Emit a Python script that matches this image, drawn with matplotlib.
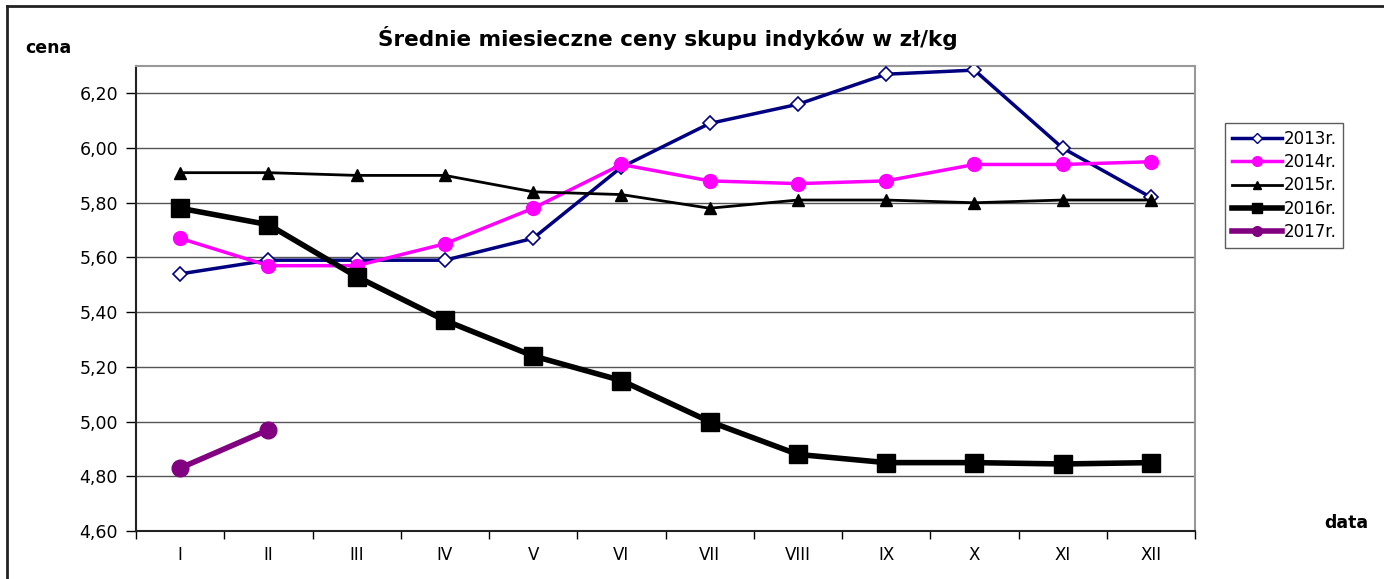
import numpy as np
import matplotlib
matplotlib.use("Agg")
import matplotlib.pyplot as plt
from matplotlib.lines import Line2D

plt.rcParams['font.family'] = ['DejaVu Sans']

# === Data ===
months = ["I", "II", "III", "IV", "V", "VI", "VII", "VIII", "IX", "X", "XI", "XII"]
y2013 = [5.54, 5.59, 5.59, 5.59, 5.67, 5.93, 6.09, 6.16, 6.27, 6.285, 6.00, 5.82]
y2014 = [5.67, 5.57, 5.57, 5.65, 5.78, 5.94, 5.88, 5.87, 5.88, 5.94, 5.94, 5.95]
y2015 = [5.91, 5.91, 5.90, 5.90, 5.84, 5.83, 5.78, 5.81, 5.81, 5.80, 5.81, 5.81]
y2016 = [5.78, 5.72, 5.53, 5.37, 5.24, 5.15, 5.00, 4.88, 4.85, 4.85, 4.845, 4.85]
y2017 = [4.83, 4.97]
labels = ["2013r.", "2014r.", "2015r.", "2016r.", "2017r."]
yticks = [4.6, 4.8, 5.0, 5.2, 5.4, 5.6, 5.8, 6.0, 6.2]

fig = plt.figure(figsize=(13.84, 5.79), dpi=100)
ax = fig.add_axes([136 / 1384, 1 - 531 / 579, (1195 - 136) / 1384, (531 - 66) / 579])

x = np.arange(len(months))

# Lines
ax.plot(x, y2013, color="#000080", lw=2.5, marker="D", ms=7, mfc="white",
        mec="#000080", mew=1.2, label=labels[0], zorder=3)
ax.plot(x, y2014, color="#FF00FF", lw=2.5, marker="o", ms=10, mfc="#FF00FF",
        mec="#FF00FF", label=labels[1], zorder=3)
ax.plot(x, y2015, color="black", lw=2, marker="^", ms=8, mfc="black",
        label=labels[2], zorder=3)
ax.plot(x, y2016, color="black", lw=4, marker="s", ms=13, mfc="black",
        label=labels[3], zorder=4)
ax.plot(x[:len(y2017)], y2017, color="#800080", lw=4, marker="o", ms=12,
        mfc="#800080", mec="#800080", label=labels[4], zorder=4)

# Axes and grid
ax.set_xlim(-0.5, len(months) - 0.5)
ax.set_ylim(4.6, 6.3)
ax.set_yticks(yticks)
ax.set_yticklabels([f"{v:.2f}".replace(".", ",") for v in yticks], fontsize=12.5)
ax.yaxis.grid(True, color="#555555", lw=1)
ax.set_axisbelow(True)
ax.set_xticks(x)
ax.set_xticklabels(months, fontsize=12)
ax.set_xticks(np.arange(-0.5, len(months)), minor=True)
ax.tick_params(axis="x", which="major", length=0, pad=11)
ax.tick_params(axis="x", which="minor", length=6, width=1, direction="out")
ax.tick_params(axis="y", length=7, width=1, direction="out", pad=6)

for side in ("left", "bottom"):
    ax.spines[side].set_color("#222222")
    ax.spines[side].set_linewidth(1.5)
for side in ("top", "right"):
    ax.spines[side].set_color("#999999")
    ax.spines[side].set_linewidth(1.5)

# Texts
fig.text(668 / 1384, 1 - 38 / 579, "Średnie miesieczne ceny skupu indyków w zł/kg",
         ha="center", va="center", fontsize=15.5, fontweight="bold")
fig.text(25 / 1384, 1 - 48 / 579, "cena", ha="left", va="center",
         fontsize=12.5, fontweight="bold")
fig.text(1368 / 1384, 1 - 523 / 579, "data", ha="right", va="center",
         fontsize=12.5, fontweight="bold")

# Legend
handles = [
    Line2D([], [], color="#000080", lw=2.5, marker="D", ms=5, mfc="white", mec="#000080"),
    Line2D([], [], color="#FF00FF", lw=2.5, marker="o", ms=7, mfc="#FF00FF", mec="#FF00FF"),
    Line2D([], [], color="black", lw=2, marker="^", ms=6, mfc="black"),
    Line2D([], [], color="black", lw=4, marker="s", ms=7, mfc="black"),
    Line2D([], [], color="#800080", lw=4, marker="o", ms=7, mfc="#800080", mec="#800080"),
]
leg = fig.legend(handles, labels, loc="upper left",
                 bbox_to_anchor=(1225 / 1384, 1 - 123 / 579),
                 fontsize=12, frameon=True, fancybox=False, edgecolor="#333333",
                 handlelength=3.0, handletextpad=0.1, borderpad=0.4,
                 labelspacing=0.32, borderaxespad=0)
leg.get_frame().set_linewidth(1)

# Outer frame (left and top edges)
fig.add_artist(Line2D([7 / 1384, 7 / 1384], [0, 1 - 6 / 579], color="#222222", lw=2,
                      transform=fig.transFigure))
fig.add_artist(Line2D([7 / 1384, 1], [1 - 6 / 579, 1 - 6 / 579], color="#222222", lw=2,
                      transform=fig.transFigure))

fig.savefig("out.png", dpi=100)
